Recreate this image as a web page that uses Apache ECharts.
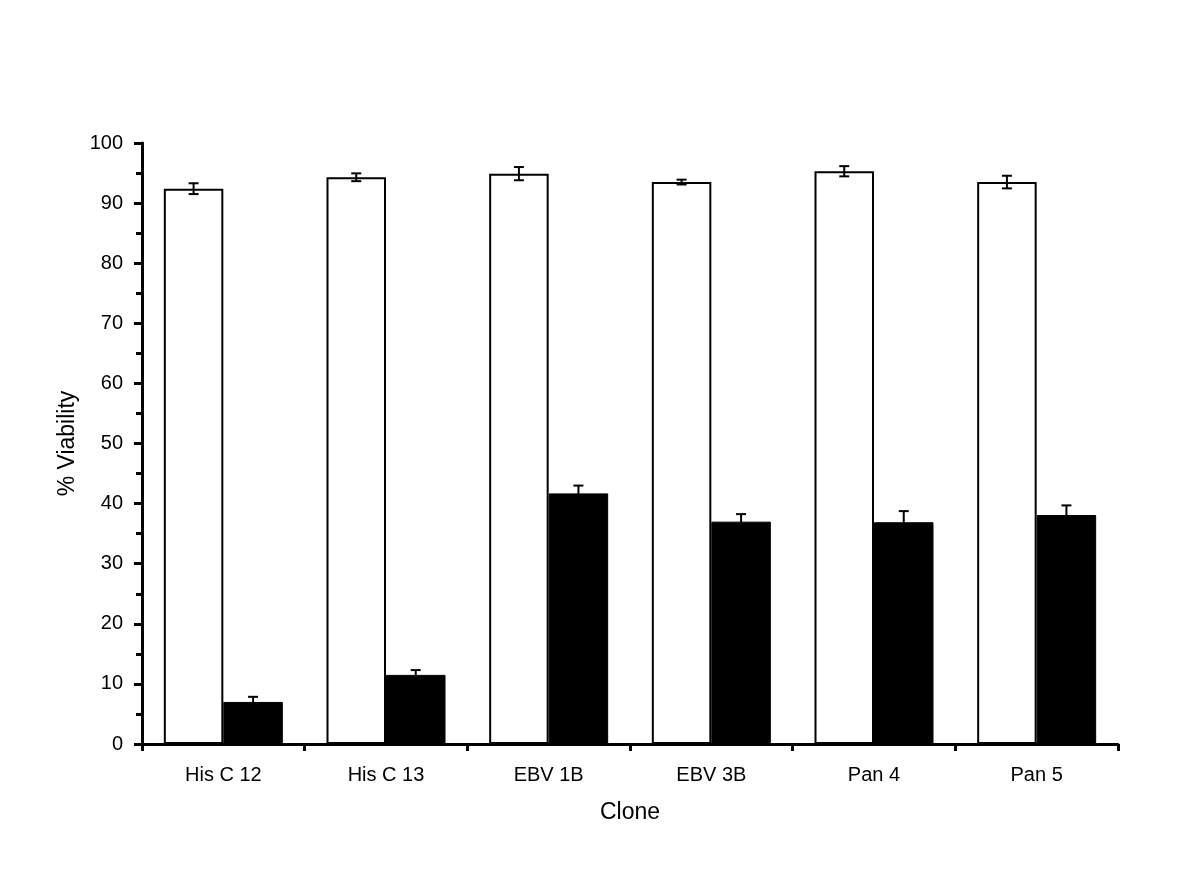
<!DOCTYPE html>
<html>
<head>
<meta charset="utf-8">
<script src="https://cdn.jsdelivr.net/npm/echarts@6/dist/echarts.min.js"></script>
<style>
html,body{margin:0;padding:0;background:#fff;}
#chart{width:1200px;height:893px;}
</style>
</head>
<body>
<div id="chart"></div>
<script>
const categories = ['His C 12', 'His C 13', 'EBV 1B', 'EBV 3B', 'Pan 4', 'Pan 5'];
const whiteValues = [92.4, 94.3, 94.9, 93.5, 95.3, 93.5];
const whiteErrors = [0.9, 0.65, 1.1, 0.4, 0.85, 1.05];
const blackValues = [7.0, 11.5, 41.7, 37.0, 36.9, 38.1];
const blackErrors = [0.85, 0.8, 1.3, 1.25, 1.85, 1.6];
const yTicks = [0, 10, 20, 30, 40, 50, 60, 70, 80, 90, 100];

const BAR_W = 59.5;
const FONT = '"Liberation Sans", Arial, Helvetica, sans-serif';

function errData(vals, errs) {
  return vals.map((v, i) => [i, v - errs[i], v + errs[i]]);
}
function errRender(offset) {
  return function (params, api) {
    const x = api.value(0);
    const lo = api.coord([x, api.value(1)]);
    const hi = api.coord([x, api.value(2)]);
    const cx = lo[0] + offset;
    const cap = 5;
    const style = { stroke: '#000', lineWidth: 2, fill: null };
    return {
      type: 'group',
      children: [
        { type: 'line', shape: { x1: cx, y1: hi[1], x2: cx, y2: lo[1] }, style },
        { type: 'line', shape: { x1: cx - cap, y1: hi[1], x2: cx + cap, y2: hi[1] }, style },
        { type: 'line', shape: { x1: cx - cap, y1: lo[1], x2: cx + cap, y2: lo[1] }, style }
      ]
    };
  };
}

const chart = echarts.init(document.getElementById('chart'), null, { renderer: 'canvas' });
chart.setOption({
  backgroundColor: '#fff',
  animation: false,
  textStyle: { fontFamily: FONT },
  grid: { left: 142, right: 82, top: 143, bottom: 149, containLabel: false },
  xAxis: {
    type: 'category',
    data: categories,
    boundaryGap: true,
    name: 'Clone',
    nameLocation: 'middle',
    nameGap: 57,
    nameTextStyle: { color: '#000', fontSize: 23, fontFamily: FONT },
    axisLine: { lineStyle: { color: '#000', width: 3 } },
    axisTick: { show: true, length: 7, lineStyle: { color: '#000', width: 3 } },
    axisLabel: { color: '#000', fontSize: 20, margin: 21, fontFamily: FONT },
    splitLine: { show: false }
  },
  yAxis: {
    type: 'value',
    min: 0,
    max: 100,
    interval: 10,
    name: '% Viability',
    nameLocation: 'middle',
    nameGap: 63,
    nameTextStyle: { color: '#000', fontSize: 23, fontFamily: FONT },
    axisLine: { show: true, lineStyle: { color: '#000', width: 3 } },
    axisTick: { show: true, length: 8, lineStyle: { color: '#000', width: 3 } },
    minorTick: { show: true, splitNumber: 2, length: 6, lineStyle: { color: '#000', width: 3 } },
    axisLabel: {
      color: '#000', fontSize: 20, margin: 19, fontFamily: FONT,
      formatter: v => (yTicks.indexOf(v) >= 0 ? String(v) : '')
    },
    splitLine: { show: false }
  },
  series: [
    {
      name: 'white', type: 'bar', data: whiteValues, barWidth: BAR_W, barGap: '0%',
      itemStyle: { color: '#fff', borderColor: '#000', borderWidth: 2 }, z: 2
    },
    {
      name: 'black', type: 'bar', data: blackValues, barWidth: BAR_W, barGap: '0%',
      itemStyle: { color: '#000', borderColor: '#000', borderWidth: 1 }, z: 2
    },
    {
      type: 'custom', data: errData(whiteValues, whiteErrors),
      renderItem: errRender(-BAR_W / 2), encode: { x: 0, y: [1, 2] }, z: 5, silent: true
    },
    {
      type: 'custom', data: errData(blackValues, blackErrors),
      renderItem: errRender(BAR_W / 2), encode: { x: 0, y: [1, 2] }, z: 5, silent: true
    }
  ]
});
</script>
</body>
</html>
